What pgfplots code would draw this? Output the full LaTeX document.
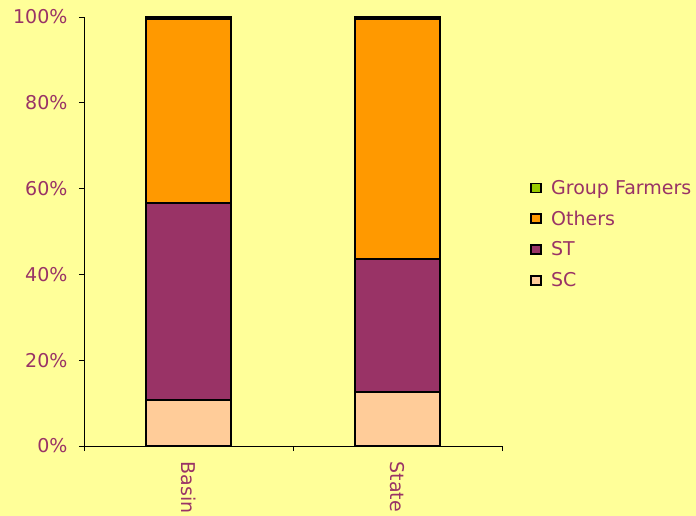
\documentclass[border=0pt]{standalone}
\usepackage{pgfplots}
\pgfplotsset{compat=1.18}
\usepackage{fontspec}
\setmainfont{DejaVu Sans}
\definecolor{bg}{HTML}{FFFF99}
\definecolor{txt}{HTML}{993366}
\definecolor{cSC}{HTML}{FFCC99}
\definecolor{cST}{HTML}{993366}
\definecolor{cOth}{HTML}{FF9900}
\definecolor{cGF}{HTML}{99CC00}
\newcommand{\lbl}{\fontsize{19bp}{22bp}\selectfont\color{txt}}
\begin{document}
\begin{tikzpicture}
\useasboundingbox (0,0) rectangle (696bp,516bp);
\clip (0,0) rectangle (696bp,516bp);
\fill[bg] (0,0) rectangle (696bp,516bp);
\begin{axis}[
  at={(84bp,70bp)}, anchor=south west,
  width=418bp, height=429bp, scale only axis,
  ybar stacked, bar width=0.41,
  xmin=-0.5, xmax=1.5, ymin=0, ymax=100,
  axis x line*=bottom, axis y line*=left,
  axis line style={-, black, line width=0.9bp},
  tick align=outside,
  tick style={black, line width=0.9bp},
  major tick length=5bp,
  xtick={-0.5,0.5,1.5}, xticklabels={},
  extra x ticks={0,1},
  extra x tick labels={Basin,State},
  extra x tick style={major tick length=0pt,
    xticklabel style={rotate=-90, anchor=west, font=\lbl, xshift=12bp}},
  ytick={0,20,...,100},
  yticklabel={\pgfmathprintnumber{\tick}\%},
  /pgf/number format/assume math mode=true,
  yticklabel style={font=\lbl, xshift=-8bp},
  legend style={at={(1.06,0.494)}, anchor=west, draw=none, fill=none,
    font=\lbl, row sep=11bp, cells={anchor=west}},
  reverse legend,
  legend image code/.code={\draw[#1, line width=1.8bp] (0bp,-4.5bp) rectangle (10bp,4.5bp);
    \path[draw=none, fill=none] (10bp,0) -- (18bp,0);},
  every axis plot/.append style={draw=black, line width=1.7bp},
]
\addplot[fill=cSC] coordinates {(0,10.7) (1,12.6)};
\addlegendentry{SC}
\addplot[fill=cST] coordinates {(0,45.9) (1,31.0)};
\addlegendentry{ST}
\addplot[fill=cOth] coordinates {(0,42.9) (1,55.9)};
\addlegendentry{Others}
\addplot[fill=cGF] coordinates {(0,0.5) (1,0.5)};
\addlegendentry{Group Farmers}
\end{axis}
\end{tikzpicture}
\end{document}
